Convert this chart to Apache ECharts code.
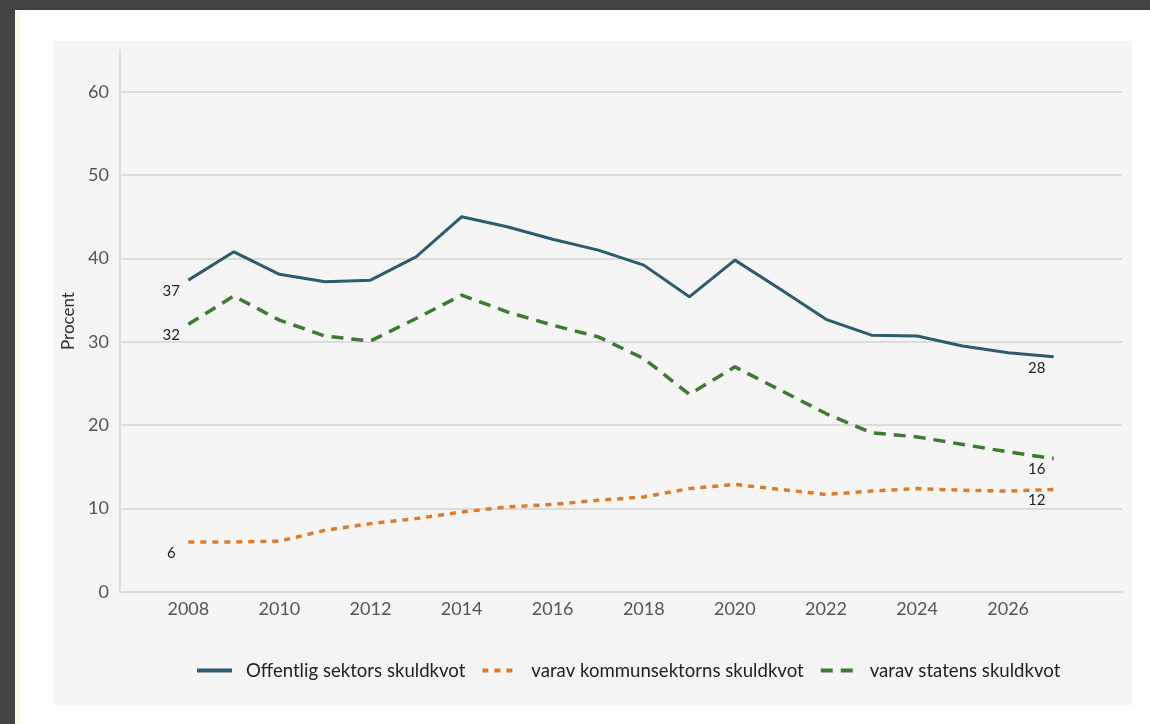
<!DOCTYPE html>
<html><head><meta charset="utf-8">
<script src="https://cdn.jsdelivr.net/npm/echarts@6/dist/echarts.min.js"></script>
<style>
html,body{margin:0;padding:0;width:1150px;height:724px;overflow:hidden;background:#424242;}
#white{position:absolute;left:15px;top:10px;width:1135px;height:714px;background:#fff;}
#edge{position:absolute;left:15px;top:10px;width:5px;height:714px;background:#fdf8ef;}
#panel{position:absolute;left:53px;top:41px;width:1079px;height:664px;background:#f5f5f5;}
#chart{position:absolute;left:0;top:0;width:1150px;height:724px;}
</style></head><body>
<div id="white"></div><div id="edge"></div><div id="panel"></div><div id="chart"></div>
<script>
// category axis extent (one empty slot each side)
const axisYears = ['2007','2008','2009','2010','2011','2012','2013','2014','2015','2016','2017','2018','2019','2020','2021','2022','2023','2024','2025','2026','2027','2028'];
const xTickLabels = ['2008','2010','2012','2014','2016','2018','2020','2022','2024','2026'];
const years = ['2008','2009','2010','2011','2012','2013','2014','2015','2016','2017','2018','2019','2020','2021','2022','2023','2024','2025','2026','2027'];
const offentlig = [37.4, 40.8, 38.1, 37.2, 37.4, 40.2, 45.0, 43.8, 42.3, 41.0, 39.2, 35.4, 39.8, 36.3, 32.7, 30.8, 30.7, 29.5, 28.7, 28.2];
const kommun    = [6.0, 6.0, 6.1, 7.4, 8.2, 8.8, 9.6, 10.2, 10.5, 11.0, 11.4, 12.4, 12.9, 12.3, 11.7, 12.1, 12.4, 12.2, 12.1, 12.3];
const staten    = [32.1, 35.5, 32.6, 30.7, 30.1, 32.8, 35.6, 33.6, 32.0, 30.6, 28.0, 23.7, 27.0, 24.2, 21.4, 19.1, 18.6, 17.7, 16.8, 16.0];
const seriesNames = ['Offentlig sektors skuldkvot', 'varav kommunsektorns skuldkvot', 'varav statens skuldkvot'];

const FONT = 'Lato, "Open Sans", sans-serif';

function build(arr) {
  return years.map((y, i) => {
    const item = { value: [y, arr[i]] };
    if (i === 0 || i === arr.length - 1) item.label = { show: true };
    return item;
  });
}

function mkSeries(name, arr, color, width, type) {
  return {
    name: name,
    type: 'line',
    data: build(arr),
    symbol: 'circle',
    symbolSize: 1,
    showSymbol: true,
    itemStyle: { color: 'rgba(0,0,0,0)' },
    lineStyle: { color: color, width: width, type: type, cap: 'butt' },
    label: {
      show: false,
      position: 'inside',
      offset: [-17, 11],
      color: '#222',
      fontSize: 15,
      fontFamily: FONT,
      formatter: p => String(Math.round(p.value[1]))
    },
    emphasis: { disabled: true },
    z: 3
  };
}

const chart = echarts.init(document.getElementById('chart'), null, { renderer: 'canvas' });
const gridColor = '#dcdcdc';
chart.setOption({
  animation: false,
  backgroundColor: 'transparent',
  textStyle: { fontFamily: FONT },
  grid: { left: 120, right: 28, top: 50, bottom: 132, containLabel: false },
  xAxis: {
    type: 'category',
    data: axisYears,
    boundaryGap: true,
    axisLine: { show: true, lineStyle: { color: gridColor, width: 2 } },
    axisTick: { show: false },
    splitLine: { show: false },
    axisLabel: {
      color: '#555',
      fontSize: 18,
      fontFamily: FONT,
      margin: 8,
      interval: (idx, val) => xTickLabels.indexOf(val) >= 0,
      formatter: v => (xTickLabels.indexOf(v) >= 0 ? v : '')
    }
  },
  yAxis: {
    type: 'value',
    min: 0,
    max: 65,
    interval: 10,
    name: 'Procent',
    nameLocation: 'middle',
    nameGap: 41,
    nameRotate: 90,
    nameTextStyle: { color: '#333', fontSize: 17, fontFamily: FONT },
    axisLine: { show: true, lineStyle: { color: gridColor, width: 2 } },
    axisTick: { show: false },
    splitLine: { show: true, lineStyle: { color: ['transparent', gridColor, gridColor, gridColor, gridColor, gridColor, gridColor, 'transparent'], width: 2 } },
    axisLabel: {
      color: '#555',
      fontSize: 18,
      fontFamily: FONT,
      margin: 11,
      showMaxLabel: false,
      formatter: v => (v > 60 ? '' : String(v))
    }
  },
  legend: {
    left: 190,
    top: 656,
    itemWidth: 35,
    itemHeight: 18,
    itemGap: 15,
    data: seriesNames,
    lineStyle: { width: 4 },
    textStyle: { color: '#222', fontSize: 18.6, fontFamily: FONT, padding: [0, 0, 0, 9] }
  },
  series: [
    mkSeries(seriesNames[0], offentlig, '#2b5d6f', 3, 'solid'),
    mkSeries(seriesNames[1], kommun, '#e07b2a', 3.5, [6, 6]),
    mkSeries(seriesNames[2], staten, '#3e7a34', 3.5, [12, 8])
  ]
});
</script>
</body></html>
